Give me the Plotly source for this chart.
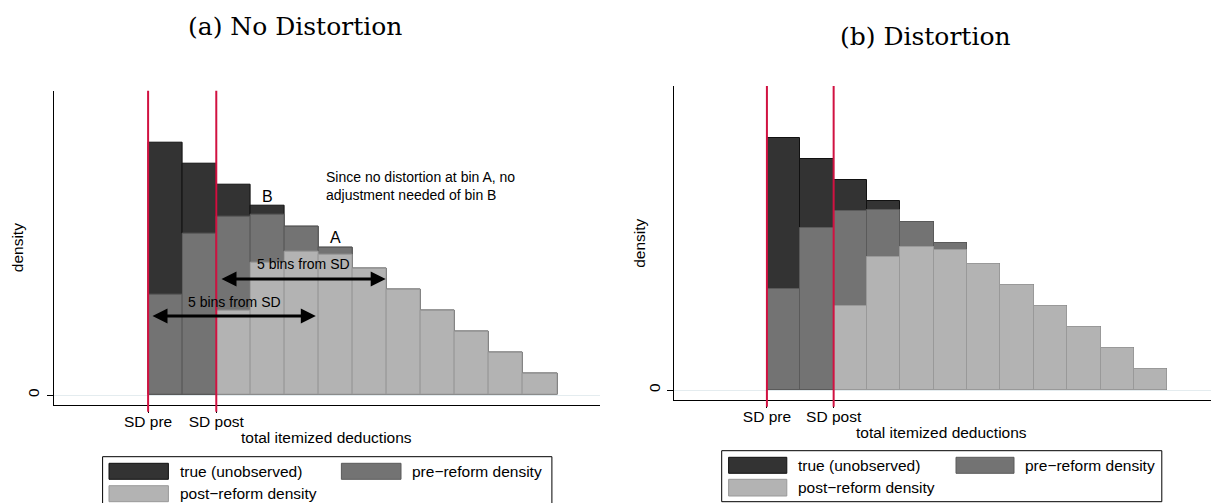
import plotly.graph_objects as go

W, H = 1211, 503

# ---------------- data ----------------
bin_centers = [0.5, 1.5, 2.5, 3.5, 4.5, 5.5, 6.5, 7.5, 8.5, 9.5, 10.5, 11.5]
tick_vals = [0, 2]
tick_labels = ["SD pre", "SD post"]
series_names = ["true (unobserved)", "pre\u2212reform density", "post\u2212reform density"]

# (a) No Distortion
true_a = [12, 11, 10, 9, 8, 7, 6, 5, 4, 3, 2, 1]
pre_a = [4.8, 7.7, 8.5, 8.57, 8.0, 7.0, 6, 5, 4, 3, 2, 1]
post_a = [None, None, 4.02, 6.3, 6.82, 6.7, 6, 5, 4, 3, 2, 1]

# (b) Distortion
true_b = [12, 11, 10, 9, 8, 7, 6, 5, 4, 3, 2, 1]
pre_b = [4.81, 7.7, 8.52, 8.56, 8.0, 7.0, 6, 5, 4, 3, 2, 1]
post_b = [None, None, 4.02, 6.33, 6.81, 6.67, 6, 5, 4, 3, 2, 1]

fill_colors = ["#333333", "#737373", "#b3b3b3"]
line_colors = ["#111111", "#5a5a5a", "#999999"]
RED = "#d11141"
SANS = "Liberation Sans, Arial, sans-serif"
SERIF = "DejaVu Serif, serif"


def px(x):
    return x / W


def py(y):
    return 1 - y / H


fig = go.Figure()

for (xa, ya, series) in [("x", "y", [true_a, pre_a, post_a]),
                         ("x2", "y2", [true_b, pre_b, post_b])]:
    for k, vals in enumerate(series):
        fig.add_trace(go.Bar(
            x=bin_centers, y=vals, width=1, name=series_names[k],
            marker=dict(color=fill_colors[k], line=dict(color=line_colors[k], width=1)),
            xaxis=xa, yaxis=ya, showlegend=False, hoverinfo="skip",
        ))

axis_common = dict(showgrid=False, showline=True, linecolor="black", linewidth=1,
                   ticks="outside", tickcolor="black", tickwidth=1,
                   tickfont=dict(family=SANS, size=15.5, color="black"))

fig.update_layout(
    width=W, height=H, autosize=False,
    margin=dict(l=0, r=0, t=0, b=0),
    paper_bgcolor="white", plot_bgcolor="white",
    barmode="overlay", bargap=0,
    xaxis=dict(domain=[px(53.6), px(600)], range=[-2.772, 13.256], anchor="y",
               tickvals=tick_vals, ticktext=tick_labels, zeroline=False, ticklen=7,
               ticklabelstandoff=-5, **axis_common),
    yaxis=dict(domain=[py(405), py(90.7)], range=[-0.476, 14.49], anchor="x",
               tickvals=[0], ticktext=["0"], tickangle=-90, ticklen=6, ticklabelstandoff=1,
               zeroline=True, zerolinecolor="#e4ecef", zerolinewidth=1, **axis_common),
    xaxis2=dict(domain=[px(674), px(1211)], range=[-2.785, 13.31], anchor="y2",
                tickvals=tick_vals, ticktext=tick_labels, zeroline=False, ticklen=7,
                ticklabelstandoff=-5, **axis_common),
    yaxis2=dict(domain=[py(400), py(86)], range=[-0.476, 14.476], anchor="x2",
                tickvals=[0], ticktext=["0"], tickangle=-90, ticklen=6, ticklabelstandoff=1,
                zeroline=True, zerolinecolor="#e4ecef", zerolinewidth=1, **axis_common),
)

shapes = []
# red SD lines
for xr, top, bot in [("x", 90.7, 411.7), ("x2", 86, 406.7)]:
    for tv in tick_vals:
        shapes.append(dict(type="line", xref=xr, yref="paper", x0=tv, x1=tv,
                           y0=py(bot), y1=py(top), line=dict(color=RED, width=2), layer="above"))

annotations = []
# panel titles
annotations.append(dict(text="(a) No Distortion", x=px(295), y=py(26.7), xref="paper", yref="paper",
                        showarrow=False, xanchor="center", yanchor="middle",
                        font=dict(family=SERIF, size=25, color="black")))
annotations.append(dict(text="(b) Distortion", x=px(925), y=py(36.7), xref="paper", yref="paper",
                        showarrow=False, xanchor="center", yanchor="middle",
                        font=dict(family=SERIF, size=25, color="black")))

# axis titles
for cx, cy, dx, dy in [(326.7, 437.7, 17.2, 248), (941.7, 432.7, 638.8, 243)]:
    annotations.append(dict(text="total itemized deductions", x=px(cx), y=py(cy), xref="paper", yref="paper",
                            showarrow=False, xanchor="center", yanchor="middle",
                            font=dict(family=SANS, size=15.5, color="black")))
    annotations.append(dict(text="density", x=px(dx), y=py(dy), xref="paper", yref="paper",
                            showarrow=False, xanchor="center", yanchor="middle", textangle=-90,
                            font=dict(family=SANS, size=15.5, color="black")))

# panel (a) annotations
annotations += [
    dict(text="B", x=3.5, y=9.44, xref="x", yref="y", showarrow=False,
         font=dict(family=SANS, size=16, color="black")),
    dict(text="A", x=5.5, y=7.48, xref="x", yref="y", showarrow=False,
         font=dict(family=SANS, size=16, color="black")),
    dict(text="Since no distortion at bin A, no<br>adjustment needed of bin B", x=5.17, y=9.94,
         xref="x", yref="y", showarrow=False, xanchor="left", yanchor="middle", align="left",
         font=dict(family=SANS, size=14, color="black")),
    dict(text="5 bins from SD", x=4.56, y=6.24, xref="x", yref="y", showarrow=False,
         font=dict(family=SANS, size=14, color="black")),
    dict(text="5 bins from SD", x=2.52, y=4.44, xref="x", yref="y", showarrow=False,
         font=dict(family=SANS, size=14, color="black")),
]
for x0, x1, yy in [(2.11, 6.97, 5.52), (0.085, 4.92, 3.76)]:
    annotations.append(dict(text="", x=x1, y=yy, ax=x0, ay=yy, xref="x", yref="y", axref="x", ayref="y",
                            showarrow=True, arrowhead=2, startarrowhead=2, arrowside="end+start",
                            arrowsize=1, startarrowsize=1, arrowwidth=3, arrowcolor="black",
                            standoff=0, startstandoff=0))

# manual legends (boxes, swatches, labels)
legends = [
    dict(box=(102.6, 456.7, 551.9, 506), rows=(463.3, 479.3, 485.7, 501.7),
         sw1=(109, 168.4), sw2=(341.4, 401), t1=178, t2=410),
    dict(box=(721.7, 450.7, 1161.8, 501.7), rows=(457.3, 473.3, 479.3, 496),
         sw1=(728.6, 786.8), sw2=(956, 1014), t1=796, t2=1023),
]
for lg in legends:
    bx0, by0, bx1, by1 = lg["box"]
    shapes.append(dict(type="rect", xref="paper", yref="paper", x0=px(bx0), x1=px(bx1),
                       y0=py(by1), y1=py(by0), line=dict(color="black", width=1), fillcolor="white"))
    r1a, r1b, r2a, r2b = lg["rows"]
    items = [(lg["sw1"], (r1a, r1b), lg["t1"], 0),
             (lg["sw2"], (r1a, r1b), lg["t2"], 1),
             (lg["sw1"], (r2a, r2b), lg["t1"], 2)]
    for (sx0, sx1), (sy0, sy1), tx, k in items:
        shapes.append(dict(type="rect", xref="paper", yref="paper", x0=px(sx0), x1=px(sx1),
                           y0=py(sy1), y1=py(sy0), fillcolor=fill_colors[k],
                           line=dict(color=line_colors[k], width=1)))
        annotations.append(dict(text=series_names[k], x=px(tx), y=py((sy0 + sy1) / 2),
                                xref="paper", yref="paper", showarrow=False,
                                xanchor="left", yanchor="middle",
                                font=dict(family=SANS, size=15.5, color="black")))

fig.update_layout(shapes=shapes, annotations=annotations)
fig.write_html("out.html")
